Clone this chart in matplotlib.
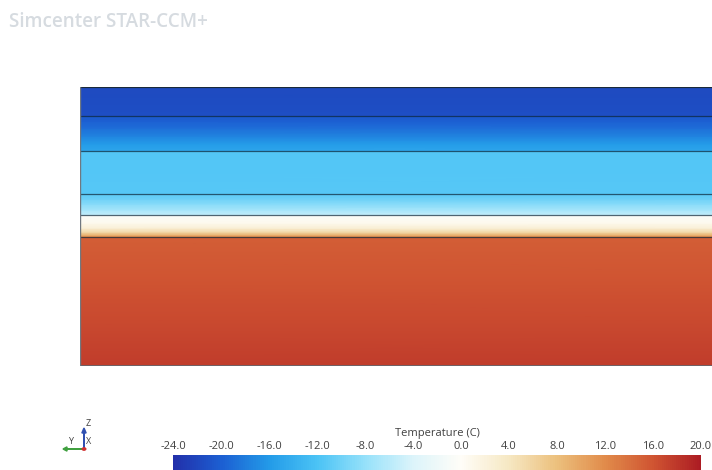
import numpy as np
import matplotlib as mpl
import matplotlib.pyplot as plt
from matplotlib.colors import LinearSegmentedColormap

mpl.rcParams['axes.unicode_minus'] = False
mpl.rcParams['font.family'] = ['Open Sans', 'DejaVu Sans']

# ===================== Data =====================
# colormap anchors (Temperature in C)
cmap_temps = [-24, -20, -16, -12, -8, -4, 0, 4, 8, 12, 16, 20]
cmap_rgb = [(34, 48, 170), (28, 95, 210), (35, 155, 232), (75, 195, 245),
            (150, 225, 250), (220, 244, 250), (255, 253, 248), (246, 232, 195),
            (236, 192, 125), (225, 140, 75), (208, 85, 50), (172, 28, 35)]
tick_values = [-24.0, -20.0, -16.0, -12.0, -8.0, -4.0, 0.0, 4.0, 8.0, 12.0, 16.0, 20.0]

# layer interfaces, height from bottom of the wall section
interfaces = [0, 129, 151, 172, 215, 250, 279]

# temperature profile through the layers (height, T)
profile_z = [0, 40, 90, 128.5,
             129.5, 131, 134, 138, 143, 150.5,
             151.5, 156, 162, 167, 171.5,
             172.5, 195, 214.5,
             215.5, 222, 230, 238, 245, 249.5,
             250.5, 279]
profile_T = [17.6, 16.8, 15.9, 15.3,
             12.0, 9.0, 5.5, 2.5, 0.8, -0.5,
             -5.5, -7.0, -8.8, -10.2, -11.0,
             -11.3, -11.5, -11.6,
             -15.0, -15.8, -17.5, -19.0, -20.0, -20.5,
             -21.4, -21.6]

# ===================== Figure =====================
W, H = 712, 470
fig = plt.figure(figsize=(W / 100, H / 100), dpi=100)

cmap = LinearSegmentedColormap.from_list(
    "bluered",
    [((t - cmap_temps[0]) / (cmap_temps[-1] - cmap_temps[0]), tuple(c / 255 for c in rgb))
     for t, rgb in zip(cmap_temps, cmap_rgb)])
norm = mpl.colors.Normalize(vmin=-24, vmax=20)

# --- scene ---
ax = fig.add_axes([80 / W, (H - 366) / H, (W - 80) / W + 0.01, (366 - 87) / H])
zz = np.array(profile_z)
TT = np.array(profile_T)
X, Z = np.meshgrid([0, 1], zz)
C = np.column_stack([TT, TT])
ax.pcolormesh(X, Z, C, shading="gouraud", cmap=cmap, norm=norm)
ax.set_xlim(0, 1)
ax.set_ylim(interfaces[0], interfaces[-1])
for z in interfaces[1:-1]:
    ax.axhline(z, color=(0.05, 0.15, 0.22), lw=0.9, alpha=0.7)
ax.axhline(interfaces[-1], color="#1a2a3a", lw=1.6)
ax.axhline(interfaces[0], color="#606870", lw=1.2)
ax.axvline(0, color="#707880", lw=1.0)
ax.set_xticks([])
ax.set_yticks([])
for s in ax.spines.values():
    s.set_visible(False)

# --- watermark ---
fig.text(9 / W, 1 - 22 / H, "Simcenter STAR-CCM+", color="#d6dbe0",
         fontsize=13.6, fontweight="semibold", va="center", ha="left")

# --- axis triad ---
ox, oy = 84 / W, 1 - 449 / H
fig.add_artist(mpl.patches.FancyArrow(ox, oy, 0, 21 / H, width=0.0008, head_width=0.006,
                                      head_length=5 / H, color="#3050b0",
                                      transform=fig.transFigure, length_includes_head=True))
fig.add_artist(mpl.patches.FancyArrow(ox, oy, -21 / W, 0, width=0.0011, head_width=0.009,
                                      head_length=4 / W, color="#40a040",
                                      transform=fig.transFigure, length_includes_head=True))
fig.add_artist(mpl.patches.Circle((ox, oy), 0.0025, color="#d03030",
                                  transform=fig.transFigure))
fig.text(88 / W, 1 - 423 / H, "Z", fontsize=6.5, color="#404040", va="center", ha="center")
fig.text(71 / W, 1 - 441 / H, "Y", fontsize=6.5, color="#404040", va="center", ha="center")
fig.text(89 / W, 1 - 441 / H, "X", fontsize=6.5, color="#404040", va="center", ha="center")

# --- colorbar ---
cax = fig.add_axes([173 / W, (H - 478) / H, (701 - 173) / W, 23 / H])
sm = mpl.cm.ScalarMappable(norm=norm, cmap=cmap)
cb = fig.colorbar(sm, cax=cax, orientation="horizontal", ticklocation="top",
                  ticks=tick_values)
cb.outline.set_visible(False)
cb.ax.tick_params(length=0, pad=2, labelsize=8, labelcolor="#404040")
cb.ax.set_xticklabels([f"{v:.1f}" for v in tick_values])
cb.set_label("Temperature (C)", fontsize=8, color="#404040", labelpad=3.5)

fig.savefig("out.png", dpi=100)
